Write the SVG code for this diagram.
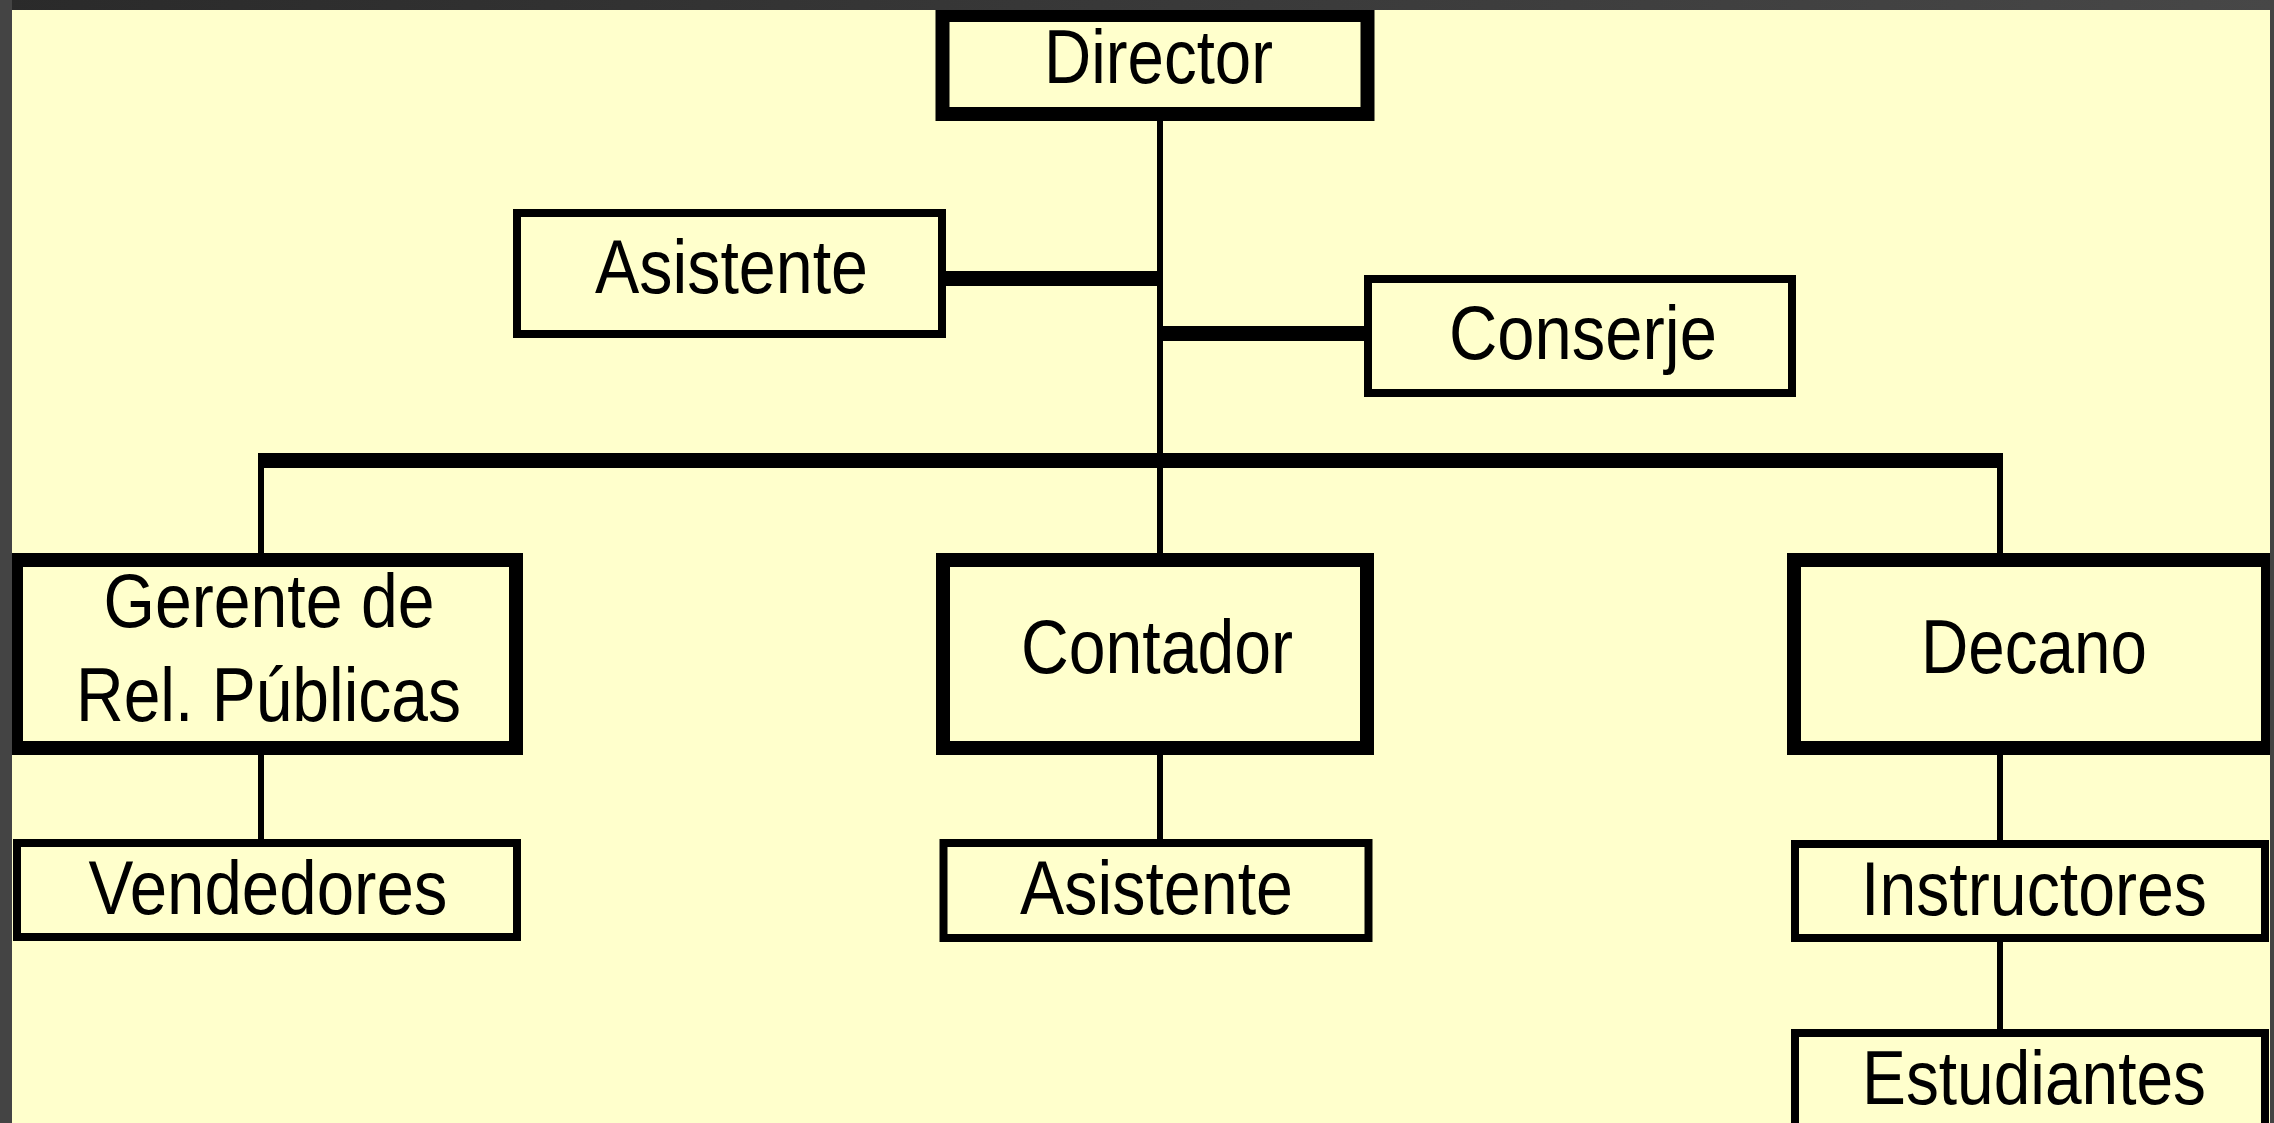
<svg xmlns="http://www.w3.org/2000/svg" width="2274" height="1123" viewBox="0 0 2274 1123">
  <defs>
    <linearGradient id="topband" x1="0" y1="0" x2="1" y2="0">
      <stop offset="0" stop-color="#2a2a2a"/>
      <stop offset="1" stop-color="#474747"/>
    </linearGradient>
    <style>
      .box { fill: #FFFFCC; stroke: #000; }
      .thick { stroke-width: 14; }
      .thin { stroke-width: 8; }
      .lbl { font-family: "Liberation Sans", Arial, sans-serif; font-size: 76px; fill: #000; text-anchor: middle; }
      .ln { fill: #000; }
    </style>
  </defs>
  <rect x="0" y="0" width="2274" height="1123" fill="#FFFFCC"/>

  <g id="connectors">
    <rect class="ln" x="1157" y="121" width="6" height="432"/>
    <rect class="ln" x="946" y="271" width="217" height="15"/>
    <rect class="ln" x="1157" y="326" width="207" height="15"/>
    <rect class="ln" x="258" y="453" width="1745" height="15"/>
    <rect class="ln" x="258" y="453" width="6" height="100"/>
    <rect class="ln" x="1997" y="453" width="6" height="100"/>
    <rect class="ln" x="258" y="755" width="6" height="85"/>
    <rect class="ln" x="1157" y="755" width="6" height="85"/>
    <rect class="ln" x="1997" y="755" width="6" height="86"/>
    <rect class="ln" x="1997" y="941" width="6" height="89"/>
  </g>

  <g id="director">
    <rect class="box thick" x="942.5" y="15" width="425" height="99"/>
    <text class="lbl" x="1158.5" y="83" textLength="229" lengthAdjust="spacingAndGlyphs">Director</text>
  </g>
  <g id="asistente-director">
    <rect class="box thin" x="517" y="213" width="425" height="121"/>
    <text class="lbl" x="731.5" y="293" textLength="273" lengthAdjust="spacingAndGlyphs">Asistente</text>
  </g>
  <g id="conserje">
    <rect class="box thin" x="1368" y="279" width="424" height="114"/>
    <text class="lbl" x="1583" y="359" textLength="268" lengthAdjust="spacingAndGlyphs">Conserje</text>
  </g>
  <g id="gerente">
    <rect class="box thick" x="16" y="560" width="500" height="188"/>
    <text class="lbl" x="269" y="627" textLength="331" lengthAdjust="spacingAndGlyphs">Gerente de</text>
    <text class="lbl" x="268.5" y="721" textLength="385" lengthAdjust="spacingAndGlyphs">Rel. Públicas</text>
  </g>
  <g id="contador">
    <rect class="box thick" x="943" y="560" width="424" height="188"/>
    <text class="lbl" x="1157" y="673" textLength="272" lengthAdjust="spacingAndGlyphs">Contador</text>
  </g>
  <g id="decano">
    <rect class="box thick" x="1794" y="560" width="474" height="188"/>
    <text class="lbl" x="2034" y="673" textLength="226" lengthAdjust="spacingAndGlyphs">Decano</text>
  </g>
  <g id="vendedores">
    <rect class="box thin" x="17" y="843" width="500" height="94"/>
    <text class="lbl" x="268" y="914" textLength="359" lengthAdjust="spacingAndGlyphs">Vendedores</text>
  </g>
  <g id="asistente-contador">
    <rect class="box thin" x="943.5" y="843" width="425" height="95"/>
    <text class="lbl" x="1156.5" y="914" textLength="273" lengthAdjust="spacingAndGlyphs">Asistente</text>
  </g>
  <g id="instructores">
    <rect class="box thin" x="1795" y="844" width="470" height="94"/>
    <text class="lbl" x="2034" y="915" textLength="346" lengthAdjust="spacingAndGlyphs">Instructores</text>
  </g>
  <g id="estudiantes">
    <rect class="box thin" x="1795" y="1033" width="470" height="120"/>
    <text class="lbl" x="2034" y="1104" textLength="344" lengthAdjust="spacingAndGlyphs">Estudiantes</text>
  </g>

  <rect x="0" y="0" width="2274" height="10" fill="url(#topband)"/>
  <rect x="0" y="0" width="12" height="1123" fill="#444444"/>
  <rect x="2270" y="0" width="4" height="1123" fill="#444444"/>
</svg>
